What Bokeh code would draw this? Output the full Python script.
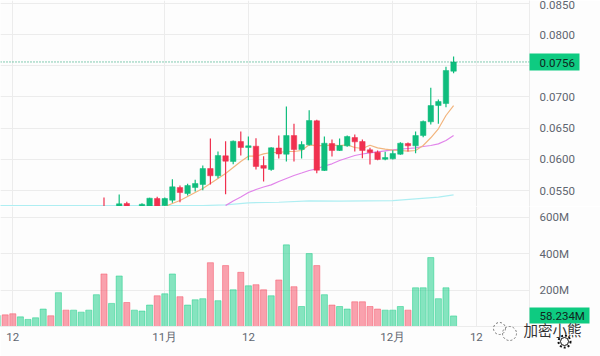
from bokeh.plotting import figure
from bokeh.layouts import column
from bokeh.models import Range1d, Span, FixedTicker, ColumnDataSource
from bokeh.core.properties import value
from bokeh.embed import file_html
from bokeh.resources import INLINE

GREEN = "#0ecb81"
CANDLE_GREEN = "#0fbd7d"
RED = "#f6465d"
CANDLE_RED = "#f0304f"
BG = "#fdfdfd"
GRID = "#ececec"
AXIS_TEXT = "#5f6670"
FONT = "Roboto"

# candle index (0 = 1 November tick), prices in units of 0.0001
candle_idx = [-8, -6, -5, -3, -2, -1] + list(range(0, 39))
candle_high = [538.8, 543.6, 531.9, 529.6, 538.3, 539.9, 538.8, 568.1, 558.0, 560.7, 567.1, 590.1, 633.3, 612.5, 629.0, 630.1, 644.6, 636.5, 633.8, 604.9, 619.4, 638.1, 684.6, 656.9, 629.0, 678.7, 663.3, 636.5, 631.7, 633.3, 638.1, 639.7, 631.7, 618.4, 614.1, 612.0, 614.6, 627.4, 626.9, 644.6, 662.2, 714.6, 695.8, 748.2, 764.7]
candle_low = [514.7, 517.9, 517.9, 519.5, 519.5, 519.5, 524.4, 530.3, 531.2, 542.0, 548.4, 550.5, 559.6, 569.7, 544.1, 592.1, 606.1, 598.6, 583.7, 564.4, 581.6, 601.3, 596.5, 596.5, 601.3, 622.1, 577.7, 581.3, 604.5, 613.3, 620.0, 612.5, 601.8, 591.7, 598.6, 598.6, 599.7, 607.4, 612.5, 609.8, 635.4, 655.8, 656.9, 683.5, 738.0]
candle_top = [522.7, 528.7, 529.2, 528.0, 537.7, 537.2, 537.2, 555.9, 554.8, 558.0, 561.2, 585.3, 585.3, 606.1, 605.6, 629.0, 628.5, 621.6, 621.0, 590.1, 618.4, 618.1, 638.1, 638.1, 623.7, 662.2, 661.7, 625.8, 625.3, 622.1, 636.5, 634.9, 628.5, 615.2, 611.4, 602.9, 609.3, 625.8, 625.3, 638.1, 660.6, 686.2, 692.6, 742.3, 756.0]
candle_bot = [517.9, 521.1, 521.1, 521.1, 521.1, 521.1, 525.9, 534.5, 546.8, 545.2, 554.8, 559.6, 573.6, 573.6, 597.0, 596.5, 618.9, 618.9, 588.5, 585.7, 583.7, 608.5, 608.2, 615.7, 615.7, 623.2, 582.5, 582.1, 614.1, 614.1, 621.6, 628.0, 614.1, 610.9, 599.7, 600.2, 600.8, 608.2, 621.6, 621.6, 638.1, 660.1, 686.2, 689.4, 741.2]
candle_dir = list("rgrgg" "r" "gg" "r" "ggg" "r" "g" "r" "g" "r" "g" "rr" "g" "r" "g" "r" "gg" "r" "g" "r" "gg" "rrrr" "ggg" "r" "gggggg")

# moving averages
ma1_idx = list(range(0, 39))
ma1 = [524.4, 529.2, 534.0, 540.4, 546.8, 553.2, 561.2, 569.2, 577.2, 586.9, 596.5, 605.0, 605.0, 608.8, 610.9, 610.9, 612.5, 612.5, 614.1, 623.2, 622.1, 622.1, 622.6, 622.1, 623.2, 618.9, 617.3, 622.6, 618.4, 616.2, 614.6, 614.1, 613.0, 614.1, 622.1, 634.5, 648.9, 670.2, 686.2]
ma2_idx = list(range(8, 39))
ma2 = [525.9, 533.2, 539.6, 546.8, 551.6, 555.6, 559.1, 564.4, 569.2, 574.0, 578.0, 582.1, 584.8, 589.3, 592.8, 598.1, 602.1, 606.1, 608.5, 610.4, 612.0, 613.6, 615.2, 616.2, 617.3, 618.4, 620.5, 622.1, 624.8, 630.1, 638.1]
ma3_idx = [-22, 5, 8, 11, 15, 19, 23, 30, 33, 36, 38]
ma3 = [525.9, 525.9, 527.1, 530.3, 531.2, 533.5, 532.9, 533.9, 536.7, 539.3, 543.1]

# volume, millions
vol_idx = list(range(-22, 39))
volume = [61, 64, 70, 53, 39, 48, 96, 59, 186, 90, 90, 79, 90, 175, 289, 127, 278, 132, 90, 85, 118, 169, 180, 289, 164, 118, 147, 153, 351, 142, 335, 202, 298, 224, 230, 202, 169, 256, 449, 219, 110, 401, 335, 175, 118, 110, 96, 136, 136, 110, 96, 90, 90, 110, 90, 213, 213, 379, 153, 213, 58.234]
vol_dir = list("grr" "gggg" "r" "g" "r" "gggg" "r" "gg" "r" "ggg" "r" "gg" "r" "ggg" "r" "g" "r" "g" "r" "g" "rr" "g" "r" "g" "r" "gg" "r" "g" "r" "gg" "rrrr" "ggg" "r" "gggggg")

price_ticks = [0.055, 0.06, 0.065, 0.07, 0.075, 0.08, 0.085]
price_labels = ["0.0550", "0.0600", "0.0650", "0.0700", "", "0.0800", "0.0850"]
vol_ticks = [200, 400, 600]
vol_labels = ["200M", "400M", "600M"]
time_ticks = [-20, 0, 11, 30, 41]
time_labels = ["12", "11月", "12", "12月", "12"]
last_price = "0.0756"
last_volume = "58.234M"

x_range = Range1d(-21.618, 47.99)


def style(p):
    p.background_fill_color = BG
    p.border_fill_color = BG
    p.outline_line_color = None
    p.xgrid.grid_line_color = GRID
    p.ygrid.grid_line_color = GRID
    for ax in list(p.yaxis) + list(p.xaxis):
        ax.axis_line_color = GRID
        ax.major_tick_line_color = None
        ax.minor_tick_line_color = None
        ax.major_tick_out = 0
        ax.major_tick_in = 0
        ax.minor_tick_out = 0
        ax.major_label_text_color = AXIS_TEXT
        ax.major_label_text_font = FONT
        ax.major_label_text_font_size = "11.5px"
    for ax in p.yaxis:
        ax.major_label_standoff = 10
    p.xaxis.ticker = FixedTicker(ticks=time_ticks)
    p.xaxis.major_label_overrides = dict(zip(time_ticks, time_labels))
    p.xaxis.major_label_standoff = 3


p1 = figure(width=600, height=206, x_range=x_range, y_range=Range1d(0.05244, 0.085449),
            y_axis_location="right", toolbar_location=None, output_backend="svg",
            min_border_left=0, min_border_right=71, min_border_top=0, min_border_bottom=0)
style(p1)
p1.xaxis.visible = False
p1.yaxis.ticker = FixedTicker(ticks=price_ticks)
p1.yaxis.major_label_overrides = dict(zip(price_ticks, price_labels))

p1.line(ma3_idx, [v / 1e4 for v in ma3], line_color="#aeeef2", line_width=1.2)
p1.line(ma2_idx, [v / 1e4 for v in ma2], line_color="#e184ea", line_width=1.2)
p1.line(ma1_idx, [v / 1e4 for v in ma1], line_color="#f2b57e", line_width=1.2)

colors = [CANDLE_GREEN if d == "g" else CANDLE_RED for d in candle_dir]
src = ColumnDataSource(dict(
    x=candle_idx,
    h=[v / 1e4 for v in candle_high],
    l=[v / 1e4 for v in candle_low],
    t=[v / 1e4 for v in candle_top],
    b=[v / 1e4 for v in candle_bot],
    c=colors,
))
p1.segment("x", "h", "x", "l", source=src, line_color="c", line_width=1.2)
p1.vbar("x", 0.72, "b", "t", source=src, fill_color="c", line_color="c", line_width=0.5)
p1.add_layout(Span(location=float(last_price), dimension="width", line_color="#0c9a68",
                   line_width=1, line_dash="1 2"))
p1.add_layout(Span(location=0.05244, dimension="width", line_color=GRID, line_width=1))

p2 = figure(width=600, height=150, x_range=x_range, y_range=Range1d(0, 660),
            y_axis_location="right", toolbar_location=None, output_backend="svg",
            min_border_left=0, min_border_right=71, min_border_top=0, min_border_bottom=30)
style(p2)
p2.yaxis.ticker = FixedTicker(ticks=vol_ticks)
p2.yaxis.major_label_overrides = dict(zip(vol_ticks, vol_labels))
vcolors = [GREEN if d == "g" else RED for d in vol_dir]
vsrc = ColumnDataSource(dict(x=vol_idx, top=volume, c=vcolors))
p2.vbar("x", 0.8, "top", 0, source=vsrc, fill_color="c", fill_alpha=0.5, line_color="c", line_alpha=0.45)

# overlay in page pixels: price tags and watermark sit over the axis gutter
ov = figure(width=600, height=356, x_range=Range1d(0, 600), y_range=Range1d(356, 0),
            toolbar_location=None, output_backend="svg", x_axis_location=None, y_axis_location=None,
            min_border=0, margin=(-356, 0, 0, 0), frame_align=False)
ov.background_fill_alpha = 0
ov.border_fill_alpha = 0
ov.outline_line_color = None
ov.grid.visible = False
ov.quad(left=[529, 529], right=[579, 589], top=[53, 307], bottom=[70, 323], fill_color=GREEN, line_color=None)
ov.text(x=[539, 539], y=[62, 315], text=[last_price, last_volume], text_baseline="middle",
        text_font=value(FONT), text_font_size="11.5px", text_color="#10261c")
ov.text(x=[523], y=[329], text=["加密小熊"], text_baseline="middle",
        text_font=value("Noto Sans CJK SC"), text_font_size="14.5px", text_color="#333333")
ov.circle(x=[499, 509], y=[328, 333], radius=[6, 7], fill_alpha=0, line_color="#777777", line_width=1, line_dash="2 2")
ov.circle(x=[564], y=[341], radius=[6], fill_alpha=0, line_color="#111111", line_width=2, line_dash="2 2")
ov.circle(x=[564], y=[341], radius=[4], fill_alpha=0, line_color="#111111", line_width=1)

layout = column(p1, p2, ov, spacing=0)
open("out.html", "w").write(file_html(layout, INLINE))
